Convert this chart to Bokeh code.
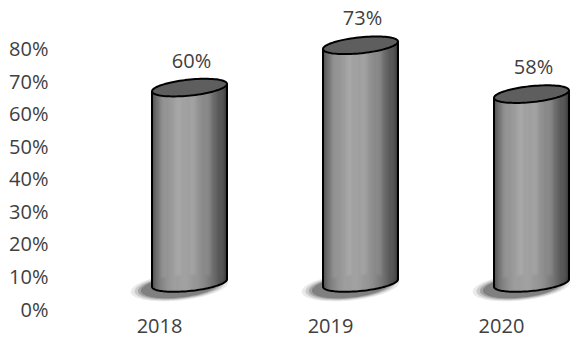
import numpy as np
from bokeh.plotting import figure
from bokeh.models import FixedTicker, NumeralTickFormatter, Range1d
from bokeh.embed import file_html
from bokeh.resources import INLINE
from bokeh.core.properties import value

# ---- data ----
years = ["2018", "2019", "2020"]
shares = [0.60, 0.73, 0.58]
share_labels = ["60%", "73%", "58%"]
y_ticks = [0.0, 0.1, 0.2, 0.3, 0.4, 0.5, 0.6, 0.7, 0.8]

# ---- style constants (3D look) ----
PX_X = 171.0          # pixels per category unit
PX_Y = 325.6          # pixels per 100%
DEPTH_DX = 30 / PX_X  # perspective shift of the cylinders to the right
DEPTH_DY = 0.08       # perspective lift of the cylinders
HALF_W = 37.5 / PX_X
ELL_B = 8.0 / PX_Y
SLOPE = (7.5 / 76) * (PX_X / PX_Y)
N_STRIPS = 80

p = figure(width=571, height=337,
           x_range=Range1d(-0.5965, 2.4094), y_range=Range1d(-0.0015, 0.9475),
           output_backend="svg", toolbar_location=None,
           min_border_left=57, min_border_right=0, min_border_top=0, min_border_bottom=28)
p.outline_line_color = None
p.grid.visible = False
p.background_fill_color = "white"

for ax in (p.xaxis[0], p.yaxis[0]):
    ax.axis_line_color = None
    ax.major_tick_line_color = None
    ax.minor_tick_line_color = None
    ax.major_tick_out = 0
    ax.major_tick_in = 0
    ax.major_label_text_font = "Open Sans"
    ax.major_label_text_font_size = "20px"
    ax.major_label_text_color = "#404040"

p.yaxis.ticker = FixedTicker(ticks=y_ticks)
p.yaxis.formatter = NumeralTickFormatter(format="0%")
p.yaxis.major_label_standoff = 9
p.xaxis.ticker = FixedTicker(ticks=list(range(len(years))))
p.xaxis.major_label_overrides = {i: y for i, y in enumerate(years)}
p.xaxis.major_label_standoff = 9


def shade(s):
    # s in [-1, 1] across the cylinder
    phi = np.arcsin(np.clip(s, -1, 1))
    inten = max(np.cos(phi + 0.2), 0.0)
    L = int(52 + 110 * inten ** 1.4)
    return "#%02x%02x%02x" % (L, L, L)


sh_xs, sh_ys, sh_alpha = [], [], []
st_l, st_r, st_b, st_t, st_c = [], [], [], [], []
top_xs, top_ys = [], []
ln_xs, ln_ys = [], []
lab_x, lab_y = [], []

t = np.linspace(0, 2 * np.pi, 90)
for i, v in enumerate(shares):
    cx = i + DEPTH_DX
    yb = DEPTH_DY
    yt = DEPTH_DY + v
    # shadow
    for k, sc in enumerate([1.3, 1.2, 1.11, 1.03]):
        ex = cx - 10 / PX_X + HALF_W * sc * np.cos(t)
        ey = yb - 3 / PX_Y + ELL_B * 1.3 * sc * np.sin(t) + SLOPE * (ex - cx)
        sh_xs.append(list(ex)); sh_ys.append(list(ey)); sh_alpha.append(0.10 + 0.07 * k)
    # body strips
    w = 2 * HALF_W / N_STRIPS
    for j in range(N_STRIPS):
        l = cx - HALF_W + j * w
        r = l + w
        xm = (l + r) / 2
        s = (xm - cx) / HALF_W
        st_l.append(l); st_r.append(r + w * 0.5)
        st_b.append(yb - ELL_B * np.sqrt(max(1 - s * s, 0)) + SLOPE * (xm - cx))
        st_t.append(yt + SLOPE * (xm - cx))
        st_c.append(shade(s))
    # top ellipse
    ex = cx + HALF_W * np.cos(t)
    ey = yt + ELL_B * np.sin(t) + SLOPE * (ex - cx)
    top_xs.append(list(ex)); top_ys.append(list(ey))
    # outline: sides + bottom arc
    tb = np.linspace(np.pi, 2 * np.pi, 60)
    bx = cx + HALF_W * np.cos(tb)
    by = yb + ELL_B * np.sin(tb) + SLOPE * (bx - cx)
    ox = [cx - HALF_W, cx - HALF_W] + list(bx) + [cx + HALF_W, cx + HALF_W]
    oy = [yt - SLOPE * HALF_W, yb - SLOPE * HALF_W] + list(by) + [yb + SLOPE * HALF_W, yt + SLOPE * HALF_W]
    ln_xs.append(ox); ln_ys.append(oy)
    lab_x.append(cx + 2 / PX_X)
    lab_y.append(yt + 27.5 / PX_Y)

p.patches(sh_xs, sh_ys, fill_color="#303030", fill_alpha=sh_alpha, line_color=None)
p.quad(left=st_l, right=st_r, bottom=st_b, top=st_t, fill_color=st_c, line_color=None)
p.multi_line(ln_xs, ln_ys, line_color="black", line_width=2)
p.patches(top_xs, top_ys, fill_color="#5e5e5e", line_color="black", line_width=2)
p.text(x=lab_x, y=lab_y, text=share_labels, text_font=value("Open Sans"),
       text_font_size="20px", text_color="#404040", text_align="center",
       text_baseline="middle")

open("out.html", "w").write(file_html(p, INLINE))
